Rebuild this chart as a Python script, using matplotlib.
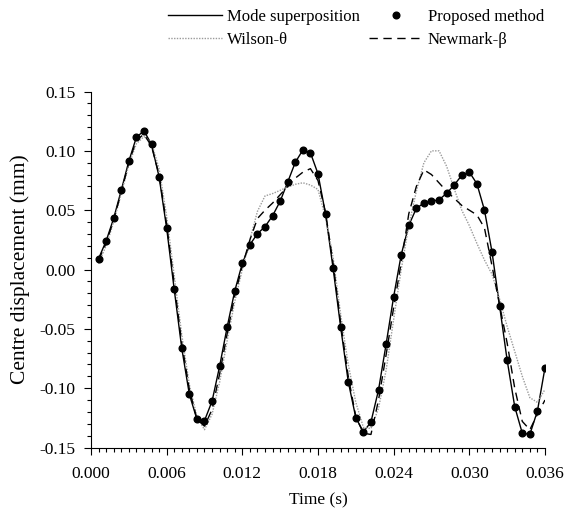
import matplotlib
matplotlib.use("Agg")
import matplotlib.pyplot as plt
from matplotlib.ticker import MultipleLocator, FormatStrFormatter
import numpy as np

plt.rcParams['font.family'] = ['Liberation Serif', 'DejaVu Serif']
plt.rcParams['axes.unicode_minus'] = False

# time step 0.0006 s, 60 samples
t = np.arange(1, 61) * 0.0006

mode_sup = [0.0091, 0.024, 0.0431, 0.0667, 0.0912, 0.1114, 0.1169, 0.1055, 0.0782, 0.035,
            -0.0167, -0.0664, -0.1051, -0.1262, -0.1274, -0.111, -0.0816, -0.0484, -0.0181, 0.0052,
            0.0209, 0.0302, 0.0361, 0.0453, 0.0575, 0.0737, 0.0903, 0.1007, 0.0984, 0.0807,
            0.0468, 0.001, -0.0487, -0.0945, -0.1249, -0.1369, -0.1285, -0.1015, -0.063, -0.0229,
            0.0125, 0.0372, 0.0516, 0.056, 0.0575, 0.0588, 0.0642, 0.0712, 0.0794, 0.0821,
            0.0723, 0.0501, 0.0147, -0.0307, -0.0765, -0.1156, -0.138, -0.1389, -0.1192, -0.0827]

proposed = [0.0091, 0.024, 0.0431, 0.0667, 0.0912, 0.1114, 0.1169, 0.1055, 0.0782, 0.035,
            -0.0167, -0.0664, -0.1051, -0.1262, -0.1274, -0.111, -0.0816, -0.0484, -0.0181, 0.0052,
            0.0209, 0.0302, 0.0361, 0.0453, 0.0575, 0.0737, 0.0903, 0.1007, 0.0984, 0.0807,
            0.0468, 0.001, -0.0487, -0.0945, -0.1249, -0.1369, -0.1285, -0.1015, -0.063, -0.0229,
            0.0125, 0.0372, 0.0516, 0.056, 0.0575, 0.0588, 0.0642, 0.0712, 0.0794, 0.0821,
            0.0723, 0.0501, 0.0147, -0.0307, -0.0765, -0.1156, -0.138, -0.1389, -0.1192, -0.0827]

wilson = [0.005, 0.02, 0.04, 0.064, 0.088, 0.106, 0.112, 0.107, 0.085, 0.045,
          -0.005, -0.055, -0.097, -0.124, -0.135, -0.122, -0.095, -0.06, -0.027, 0.0,
          0.025, 0.049, 0.062, 0.064, 0.0667, 0.0695, 0.0718, 0.0731, 0.0712, 0.0675,
          0.0437, 0.01, -0.038, -0.08, -0.112, -0.133, -0.134, -0.117, -0.085, -0.042,
          0.0, 0.037, 0.066, 0.09, 0.1, 0.1, 0.087, 0.068, 0.05, 0.037,
          0.022, 0.008, -0.004, -0.025, -0.048, -0.069, -0.09, -0.108, -0.112, -0.101]

newmark = [0.008, 0.022, 0.042, 0.065, 0.09, 0.109, 0.114, 0.104, 0.08, 0.038,
           -0.012, -0.062, -0.101, -0.126, -0.132, -0.118, -0.088, -0.054, -0.022, 0.003,
           0.025, 0.043, 0.05, 0.056, 0.063, 0.07, 0.077, 0.082, 0.085, 0.075,
           0.048, 0.005, -0.045, -0.09, -0.124, -0.138, -0.139, -0.11, -0.072, -0.032,
           0.006, 0.047, 0.07, 0.084, 0.08, 0.073, 0.066, 0.06, 0.054, 0.05,
           0.046, 0.035, 0.003, -0.03, -0.062, -0.1, -0.128, -0.135, -0.122, -0.11]

fig = plt.figure(figsize=(5.65, 5.2), dpi=100)
ax = fig.add_axes([0.161, 0.1394, 0.8036, 0.6846])

l_mode, = ax.plot(t, mode_sup, color='black', lw=1.0, label='Mode superposition')
l_wil, = ax.plot(t, wilson, color='#9a9a9a', lw=1.0, ls=(0, (1, 1)), label='Wilson-θ')
l_new, = ax.plot(t, newmark, color='black', lw=1.0, ls=(0, (6, 4)), label='Newmark-β')
l_prop, = ax.plot(t, proposed, 'o', color='black', ms=4.8, label='Proposed method')

ax.set_xlim(0, 0.036)
ax.set_ylim(-0.15, 0.15)
ax.xaxis.set_major_locator(MultipleLocator(0.006))
ax.xaxis.set_minor_locator(MultipleLocator(0.0006))
ax.yaxis.set_major_locator(MultipleLocator(0.05))
ax.yaxis.set_minor_locator(MultipleLocator(0.01))
ax.xaxis.set_major_formatter(FormatStrFormatter('%.3f'))
ax.yaxis.set_major_formatter(FormatStrFormatter('%.2f'))

for s in ['top', 'right']:
    ax.spines[s].set_visible(False)
ax.tick_params(which='major', direction='out', length=5, width=0.8, labelsize=12.5)
ax.tick_params(which='minor', direction='out', length=3, width=0.8)
ax.tick_params(axis='x', which='major', pad=8)
ax.tick_params(axis='y', which='major', pad=6)

ax.set_xlabel('Time (s)', fontsize=12.5, labelpad=8)
ax.set_ylabel('Centre displacement (mm)', fontsize=15.5, labelpad=7)

fig.legend(handles=[l_mode, l_wil, l_prop, l_new], ncol=2, loc='upper left',
           bbox_to_anchor=(0.277, 1.005), frameon=False, fontsize=12,
           handlelength=3.2, handletextpad=0.33, columnspacing=0.55,
           labelspacing=0.42, numpoints=1, borderpad=0.2)

fig.savefig('out.png', dpi=100)
